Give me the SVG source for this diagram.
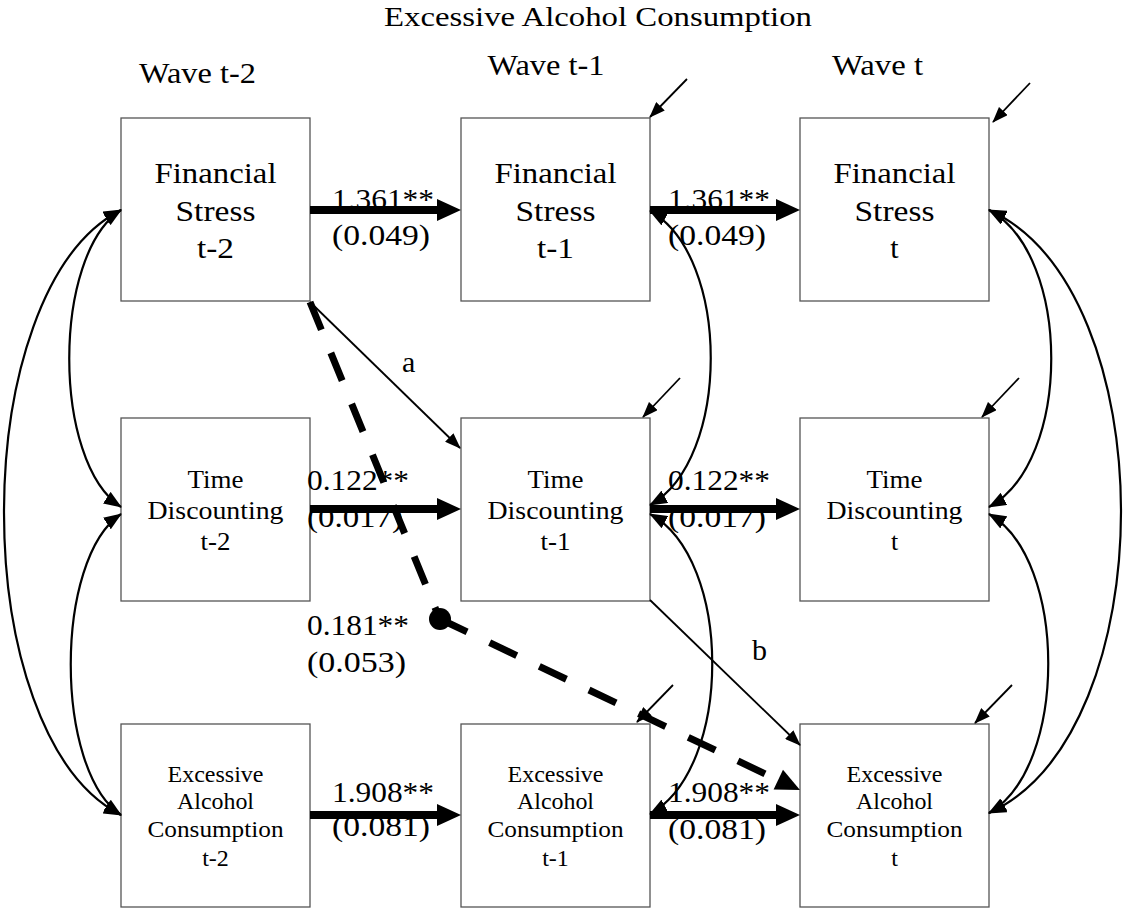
<svg xmlns="http://www.w3.org/2000/svg" width="1124" height="910" viewBox="0 0 1124 910">
<defs>
<marker id="thick" markerUnits="userSpaceOnUse" markerWidth="24" markerHeight="22" refX="0" refY="11" orient="auto"><path d="M0,0 L24,11 L0,22 z" fill="#000"/></marker>
<marker id="thin" markerUnits="userSpaceOnUse" markerWidth="16" markerHeight="12" refX="15" refY="6" orient="auto-start-reverse"><path d="M0,0 L16,6 L0,12 z" fill="#000"/></marker>
<marker id="covh" markerUnits="userSpaceOnUse" markerWidth="18" markerHeight="14" refX="17" refY="7" orient="auto-start-reverse"><path d="M0,0 L18,7 L0,14 z" fill="#000"/></marker>
</defs>
<style>
.box{fill:#fff;stroke:#555;stroke-width:1.3}
text{font-family:"Liberation Serif","Times New Roman",serif;fill:#000}
.f28{font-size:28px}
.f30{font-size:30px}
.f26{font-size:26px}
.f24{font-size:24px}
.c{text-anchor:middle}
.thick{stroke:#000;stroke-width:8;fill:none}
.thin{stroke:#000;stroke-width:1.8;fill:none}
.cov{stroke:#000;stroke-width:2.2;fill:none}
.dash{stroke:#000;stroke-width:7;stroke-dasharray:30 25;fill:none}
</style>
<rect width="1124" height="910" fill="#fff"/>

<g id="headers">
<text class="f28 c" x="598" y="26" textLength="428" lengthAdjust="spacingAndGlyphs">Excessive Alcohol Consumption</text>
<text class="f30 c" x="197.5" y="83" textLength="117" lengthAdjust="spacingAndGlyphs">Wave t-2</text>
<text class="f30 c" x="546" y="75" textLength="117" lengthAdjust="spacingAndGlyphs">Wave t-1</text>
<text class="f30 c" x="877.5" y="75" textLength="91" lengthAdjust="spacingAndGlyphs">Wave t</text>
</g>

<g id="fs_t2"><rect class="box" x="121" y="118" width="189" height="183"/>
<text class="f30 c" x="215.5" y="183" textLength="122" lengthAdjust="spacingAndGlyphs">Financial</text>
<text class="f30 c" x="215.5" y="221" textLength="80" lengthAdjust="spacingAndGlyphs">Stress</text>
<text class="f30 c" x="215.5" y="258" textLength="37" lengthAdjust="spacingAndGlyphs">t-2</text></g>
<g id="fs_t1"><rect class="box" x="461" y="118" width="189" height="183"/>
<text class="f30 c" x="555.5" y="183" textLength="122" lengthAdjust="spacingAndGlyphs">Financial</text>
<text class="f30 c" x="555.5" y="221" textLength="80" lengthAdjust="spacingAndGlyphs">Stress</text>
<text class="f30 c" x="555.5" y="258" textLength="37" lengthAdjust="spacingAndGlyphs">t-1</text></g>
<g id="fs_t"><rect class="box" x="800" y="118" width="189" height="183"/>
<text class="f30 c" x="894.5" y="183" textLength="122" lengthAdjust="spacingAndGlyphs">Financial</text>
<text class="f30 c" x="894.5" y="221" textLength="80" lengthAdjust="spacingAndGlyphs">Stress</text>
<text class="f30 c" x="894.5" y="258">t</text></g>

<g id="td_t2"><rect class="box" x="121" y="418" width="189" height="183"/>
<text class="f26 c" x="215.5" y="488" textLength="56" lengthAdjust="spacingAndGlyphs">Time</text>
<text class="f26 c" x="215.5" y="519" textLength="136" lengthAdjust="spacingAndGlyphs">Discounting</text>
<text class="f26 c" x="215.5" y="550" textLength="30" lengthAdjust="spacingAndGlyphs">t-2</text></g>
<g id="td_t1"><rect class="box" x="461" y="418" width="189" height="183"/>
<text class="f26 c" x="555.5" y="488" textLength="56" lengthAdjust="spacingAndGlyphs">Time</text>
<text class="f26 c" x="555.5" y="519" textLength="136" lengthAdjust="spacingAndGlyphs">Discounting</text>
<text class="f26 c" x="555.5" y="550" textLength="30" lengthAdjust="spacingAndGlyphs">t-1</text></g>
<g id="td_t"><rect class="box" x="800" y="418" width="189" height="183"/>
<text class="f26 c" x="894.5" y="488" textLength="56" lengthAdjust="spacingAndGlyphs">Time</text>
<text class="f26 c" x="894.5" y="519" textLength="136" lengthAdjust="spacingAndGlyphs">Discounting</text>
<text class="f26 c" x="894.5" y="550">t</text></g>

<g id="eac_t2"><rect class="box" x="121" y="724" width="189" height="183"/>
<text class="f24 c" x="215.5" y="782" textLength="96" lengthAdjust="spacingAndGlyphs">Excessive</text>
<text class="f24 c" x="215.5" y="809" textLength="77" lengthAdjust="spacingAndGlyphs">Alcohol</text>
<text class="f24 c" x="215.5" y="837" textLength="136" lengthAdjust="spacingAndGlyphs">Consumption</text>
<text class="f24 c" x="215.5" y="866">t-2</text></g>
<g id="eac_t1"><rect class="box" x="461" y="724" width="189" height="183"/>
<text class="f24 c" x="555.5" y="782" textLength="96" lengthAdjust="spacingAndGlyphs">Excessive</text>
<text class="f24 c" x="555.5" y="809" textLength="77" lengthAdjust="spacingAndGlyphs">Alcohol</text>
<text class="f24 c" x="555.5" y="837" textLength="136" lengthAdjust="spacingAndGlyphs">Consumption</text>
<text class="f24 c" x="555.5" y="866">t-1</text></g>
<g id="eac_t"><rect class="box" x="800" y="724" width="189" height="183"/>
<text class="f24 c" x="894.5" y="782" textLength="96" lengthAdjust="spacingAndGlyphs">Excessive</text>
<text class="f24 c" x="894.5" y="809" textLength="77" lengthAdjust="spacingAndGlyphs">Alcohol</text>
<text class="f24 c" x="894.5" y="837" textLength="136" lengthAdjust="spacingAndGlyphs">Consumption</text>
<text class="f24 c" x="894.5" y="866">t</text></g>

<g id="edge-labels">
<text class="f30" x="332" y="209" textLength="102" lengthAdjust="spacingAndGlyphs">1.361**</text>
<text class="f30" x="332" y="245" textLength="98" lengthAdjust="spacingAndGlyphs">(0.049)</text>
<text class="f30" x="668" y="209" textLength="102" lengthAdjust="spacingAndGlyphs">1.361**</text>
<text class="f30" x="668" y="245" textLength="98" lengthAdjust="spacingAndGlyphs">(0.049)</text>
<text class="f30" x="307" y="490" textLength="102" lengthAdjust="spacingAndGlyphs">0.122**</text>
<text class="f30" x="307" y="527" textLength="96" lengthAdjust="spacingAndGlyphs">(0.017)</text>
<text class="f30" x="668" y="490" textLength="102" lengthAdjust="spacingAndGlyphs">0.122**</text>
<text class="f30" x="668" y="527" textLength="98" lengthAdjust="spacingAndGlyphs">(0.017)</text>
<text class="f30" x="332" y="802" textLength="102" lengthAdjust="spacingAndGlyphs">1.908**</text>
<text class="f30" x="332" y="836" textLength="98" lengthAdjust="spacingAndGlyphs">(0.081)</text>
<text class="f30" x="668" y="802" textLength="102" lengthAdjust="spacingAndGlyphs">1.908**</text>
<text class="f30" x="668" y="839" textLength="98" lengthAdjust="spacingAndGlyphs">(0.081)</text>
<text class="f30" x="307" y="635" textLength="102" lengthAdjust="spacingAndGlyphs">0.181**</text>
<text class="f30" x="307" y="672" textLength="99" lengthAdjust="spacingAndGlyphs">(0.053)</text>
<text class="f30" x="402" y="372">a</text>
<text class="f30" x="752" y="660">b</text>
</g>

<g id="connectors">
<line class="thick" x1="310" y1="210" x2="437" y2="210" marker-end="url(#thick)"/>
<line class="thick" x1="650" y1="210" x2="776" y2="210" marker-end="url(#thick)"/>
<line class="thick" x1="310" y1="509" x2="437" y2="509" marker-end="url(#thick)"/>
<line class="thick" x1="650" y1="509" x2="776" y2="509" marker-end="url(#thick)"/>
<line class="thick" x1="310" y1="815" x2="437" y2="815" marker-end="url(#thick)"/>
<line class="thick" x1="650" y1="815" x2="776" y2="815" marker-end="url(#thick)"/>
<line class="thin" x1="310" y1="302" x2="460" y2="448" marker-end="url(#thin)"/>
<line class="thin" x1="650" y1="600" x2="800" y2="745" marker-end="url(#thin)"/>
<line class="thin" x1="687" y1="79" x2="650" y2="117" marker-end="url(#thin)"/>
<line class="thin" x1="1030" y1="83" x2="993" y2="122" marker-end="url(#thin)"/>
<line class="thin" x1="680" y1="378" x2="643" y2="417" marker-end="url(#thin)"/>
<line class="thin" x1="1019" y1="378" x2="982" y2="417" marker-end="url(#thin)"/>
<line class="thin" x1="673" y1="685" x2="637" y2="722" marker-end="url(#thin)"/>
<line class="thin" x1="1012" y1="685" x2="975" y2="723" marker-end="url(#thin)"/>
<path class="cov" d="M121,210 C-35,290 -35,735 121,815" marker-start="url(#covh)" marker-end="url(#covh)"/>
<path class="cov" d="M121,210 C52,255 52,462 121,507" marker-start="url(#covh)" marker-end="url(#covh)"/>
<path class="cov" d="M121,514 C54,559 54,770 121,815" marker-start="url(#covh)" marker-end="url(#covh)"/>
<path class="cov" d="M650,211 C731,256 731,460 650,505" marker-start="url(#covh)" marker-end="url(#covh)"/>
<path class="cov" d="M650,514 C733,559 733,768 650,814" marker-start="url(#covh)" marker-end="url(#covh)"/>
<path class="cov" d="M989,210 C1165,290 1165,733 989,813" marker-start="url(#covh)" marker-end="url(#covh)"/>
<path class="cov" d="M989,210 C1072,255 1072,462 989,507" marker-start="url(#covh)" marker-end="url(#covh)"/>
<path class="cov" d="M989,514 C1068,559 1068,768 989,813" marker-start="url(#covh)" marker-end="url(#covh)"/>
<path class="dash" d="M310,302 L436,610"/>
<circle cx="440" cy="619" r="11" fill="#000"/>
<path class="dash" d="M440,619 L780,781"/>
<polygon points="800,790 773.6,789.6 783,769.8" fill="#000"/>
</g>
</svg>
